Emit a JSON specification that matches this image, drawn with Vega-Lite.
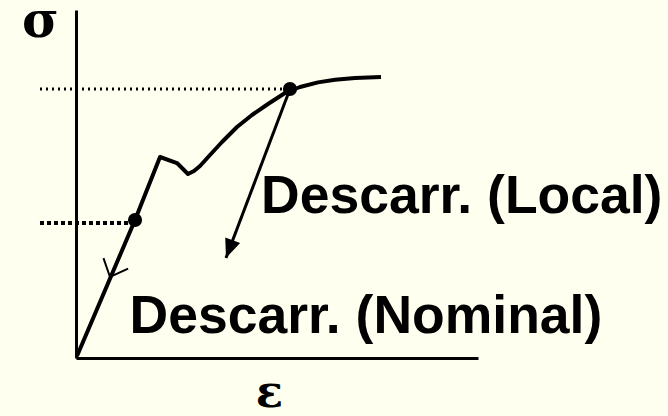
{
  "$schema": "https://vega.github.io/schema/vega-lite/v6.json",
  "width": 402,
  "height": 348,
  "autosize": {"type": "none"},
  "padding": {"left": 76, "top": 10, "right": 190, "bottom": 58},
  "background": "#FFFFF0",
  "config": {
    "view": {"stroke": null},
    "axis": {"domain": true, "domainColor": "#000000", "domainWidth": 3, "ticks": false, "labels": false, "grid": false}
  },
  "datasets": {
    "curve": [
      {"e": 0.025, "s": 0.057},
      {"e": 1.468, "s": 3.966},
      {"e": 2.090, "s": 5.776},
      {"e": 2.512, "s": 5.603},
      {"e": 2.786, "s": 5.287},
      {"e": 2.935, "s": 5.374},
      {"e": 3.085, "s": 5.517},
      {"e": 3.333, "s": 5.833},
      {"e": 3.632, "s": 6.207},
      {"e": 4.005, "s": 6.638},
      {"e": 4.378, "s": 6.983},
      {"e": 4.776, "s": 7.299},
      {"e": 5.199, "s": 7.615},
      {"e": 5.572, "s": 7.787},
      {"e": 6.020, "s": 7.920},
      {"e": 6.443, "s": 7.995},
      {"e": 6.940, "s": 8.046},
      {"e": 7.587, "s": 8.075}
    ],
    "refUpper": [{"e": -0.896, "e2": 5.323, "s": 7.730}],
    "refLower": [{"e": -0.896, "e2": 1.468, "s": 3.879}],
    "unload": [{"e": 5.323, "s": 7.730, "e2": 3.731, "s2": 2.874}],
    "tip": [{"e": 3.731, "s": 2.874}],
    "chevron": [{"e": 0.846, "s": 2.328}],
    "dots": [{"e": 1.468, "s": 3.966}, {"e": 5.323, "s": 7.730}],
    "labels": [
      {"e": 4.602, "s": 4.167, "label": "Descarr. (Local)"},
      {"e": 1.331, "s": 0.718, "label": "Descarr. (Nominal)"}
    ]
  },
  "encoding": {
    "x": {
      "field": "e", "type": "quantitative",
      "scale": {"domain": [0, 10], "nice": false, "zero": false},
      "axis": {"title": "ε", "titleFont": "DejaVu Serif", "titleFontSize": 45, "titleFontWeight": "bold", "titleColor": "#000000", "titleAngle": 0, "titleAlign": "center", "titleBaseline": "alphabetic", "titleX": 193, "titleY": 48}
    },
    "y": {
      "field": "s", "type": "quantitative",
      "scale": {"domain": [0, 10], "nice": false, "zero": false},
      "axis": {"title": "σ", "titleFont": "DejaVu Serif", "titleFontSize": 50, "titleFontWeight": "bold", "titleColor": "#000000", "titleAngle": 0, "titleAlign": "center", "titleBaseline": "alphabetic", "titleX": -36, "titleY": 26}
    }
  },
  "layer": [
    {
      "data": {"name": "refUpper"},
      "mark": {"type": "rule", "color": "#000000", "strokeWidth": 3, "strokeDash": [2, 4]},
      "encoding": {"x2": {"field": "e2"}}
    },
    {
      "data": {"name": "refLower"},
      "mark": {"type": "rule", "color": "#000000", "strokeWidth": 4, "strokeDash": [4, 3]},
      "encoding": {"x2": {"field": "e2"}}
    },
    {
      "data": {"name": "curve"},
      "mark": {"type": "line", "color": "#000000", "strokeWidth": 4, "interpolate": "linear", "strokeJoin": "round"},
      "encoding": {}
    },
    {
      "data": {"name": "unload"},
      "mark": {"type": "rule", "color": "#000000", "strokeWidth": 3},
      "encoding": {"x2": {"field": "e2"}, "y2": {"field": "s2"}}
    },
    {
      "data": {"name": "tip"},
      "mark": {"type": "point", "shape": "M0,0L-0.42,-1L0.42,-1Z", "size": 1444, "angle": 20.7, "filled": true, "color": "#000000", "opacity": 1},
      "encoding": {}
    },
    {
      "data": {"name": "chevron"},
      "mark": {"type": "point", "shape": "M-0.67,-0.74L0,0L0.67,-0.74", "size": 1600, "angle": 23, "filled": false, "color": "#000000", "strokeWidth": 2, "opacity": 1},
      "encoding": {}
    },
    {
      "data": {"name": "dots"},
      "mark": {"type": "point", "shape": "circle", "size": 200, "filled": true, "color": "#000000", "opacity": 1},
      "encoding": {}
    },
    {
      "data": {"name": "labels"},
      "mark": {"type": "text", "font": "Liberation Sans", "fontWeight": "bold", "fontSize": 53.5, "align": "left", "baseline": "alphabetic", "color": "#000000"},
      "encoding": {"text": {"field": "label", "type": "nominal"}}
    }
  ]
}
